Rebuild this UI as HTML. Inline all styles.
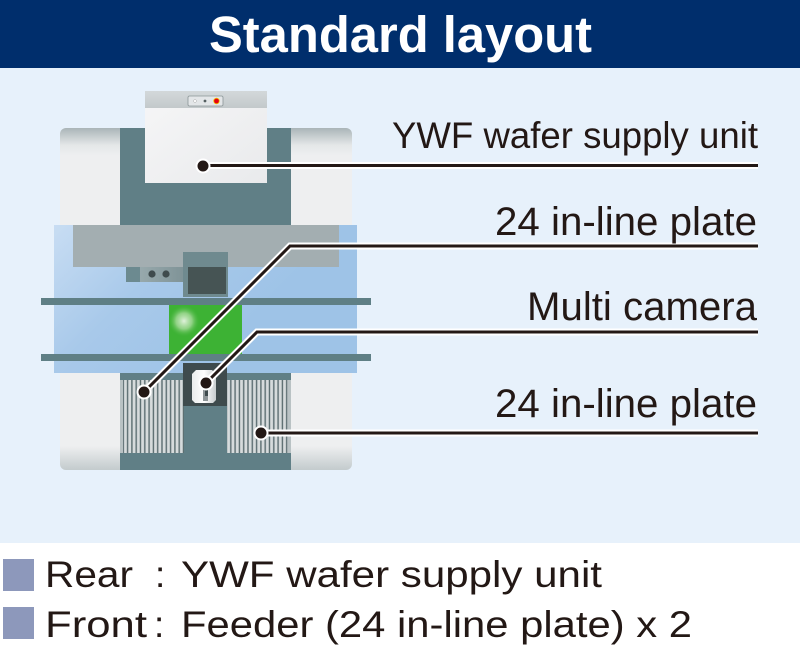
<!DOCTYPE html>
<html><head><meta charset="utf-8"><style>
html,body{margin:0;padding:0;background:#fff;}
svg{display:block;}
text{font-family:"Liberation Sans",Arial,sans-serif;}
</style></head><body>
<svg width="800" height="646" viewBox="0 0 800 646" xmlns="http://www.w3.org/2000/svg">
<defs>
<linearGradient id="baseG" x1="0" y1="128" x2="0" y2="470" gradientUnits="userSpaceOnUse">
<stop offset="0" stop-color="#aab5b8"/>
<stop offset="0.05" stop-color="#e4e7e8"/>
<stop offset="0.08" stop-color="#eeeff0"/>
<stop offset="0.93" stop-color="#eeeff0"/>
<stop offset="1" stop-color="#c3cbcd"/>
</linearGradient>
<linearGradient id="blueG" x1="54" y1="225" x2="200" y2="373" gradientUnits="userSpaceOnUse">
<stop offset="0" stop-color="#c8ddf3"/>
<stop offset="0.5" stop-color="#a8c9ea"/>
<stop offset="1" stop-color="#9ec3e7"/>
</linearGradient>
<linearGradient id="topbar" x1="0" y1="0" x2="0" y2="1">
<stop offset="0" stop-color="#d3d8da"/>
<stop offset="1" stop-color="#c3c9cb"/>
</linearGradient>
<linearGradient id="boxG" x1="0" y1="0" x2="1" y2="1">
<stop offset="0" stop-color="#f6f6f7"/>
<stop offset="1" stop-color="#e9eaec"/>
</linearGradient>
<linearGradient id="smallG" x1="0" y1="0" x2="1" y2="0">
<stop offset="0" stop-color="#9fb0b3"/>
<stop offset="1" stop-color="#7f9397"/>
</linearGradient>
<radialGradient id="glow" cx="0.5" cy="0.5" r="0.5">
<stop offset="0" stop-color="#e8f5e4" stop-opacity="0.95"/>
<stop offset="0.5" stop-color="#b5e0a8" stop-opacity="0.7"/>
<stop offset="1" stop-color="#3db234" stop-opacity="0"/>
</radialGradient>
<pattern id="stripes" x="120" y="0" width="4.3" height="10" patternUnits="userSpaceOnUse">
<rect x="0" y="0" width="4.3" height="10" fill="#d6dbdc"/>
<rect x="2.6" y="0" width="1.4" height="10" fill="#5a6c70"/>
</pattern>
<linearGradient id="camG" x1="0" y1="0" x2="1" y2="0">
<stop offset="0" stop-color="#e9ecec"/>
<stop offset="0.5" stop-color="#ffffff"/>
<stop offset="1" stop-color="#c6cccd"/>
</linearGradient>
</defs>

<!-- backgrounds -->
<rect x="0" y="0" width="800" height="646" fill="#ffffff"/>
<rect x="0" y="68" width="800" height="475" fill="#e7f1fb"/>
<rect x="0" y="0" width="800" height="68" fill="#002e6c"/>
<text x="209" y="52" font-size="51" font-weight="bold" fill="#ffffff" textLength="383" lengthAdjust="spacingAndGlyphs">Standard layout</text>

<!-- machine base -->
<rect x="60" y="128" width="292" height="342" rx="6" fill="url(#baseG)"/>
<rect x="120" y="128" width="171" height="342" fill="#607f86"/>

<!-- supply unit -->
<rect x="145" y="91" width="122" height="92" fill="url(#boxG)"/>
<rect x="145" y="91" width="122" height="17" fill="url(#topbar)"/>
<rect x="188" y="96" width="35" height="10" rx="1.5" fill="#e3e6e8" stroke="#8b9597" stroke-width="0.8"/>
<circle cx="195" cy="101" r="1.4" fill="#ffffff" stroke="#999" stroke-width="0.4"/>
<circle cx="205" cy="101" r="1.4" fill="#555f61"/>
<circle cx="216.5" cy="101" r="3.2" fill="#f2c400"/>
<circle cx="216.5" cy="101" r="2.4" fill="#e60012"/>

<!-- blue area -->
<rect x="54" y="225" width="303" height="148" fill="url(#blueG)"/>
<rect x="73" y="225" width="266" height="42" fill="#a3aeb1"/>
<!-- small block -->
<rect x="126" y="267" width="58" height="15" fill="url(#smallG)"/>
<rect x="126" y="267" width="14" height="15" fill="#6c8a90"/>
<circle cx="152" cy="274" r="3.6" fill="#3f4b4d"/>
<circle cx="166" cy="274" r="3.6" fill="#3f4b4d"/>
<!-- dark block -->
<rect x="183" y="252" width="45" height="45" fill="#6f8a8f"/>
<rect x="188" y="267" width="38" height="27" fill="#465454"/>

<!-- rails -->
<rect x="41" y="298" width="330" height="7" fill="#5f7f85"/>
<rect x="41" y="354" width="330" height="7" fill="#5f7f85"/>
<!-- green -->
<rect x="169" y="305" width="73" height="49" fill="#3db234"/>
<circle cx="184" cy="321" r="16" fill="url(#glow)"/>

<!-- bottom: feeders -->
<rect x="120" y="373" width="171" height="97" fill="#607f86"/>
<rect x="120" y="380" width="64" height="73" fill="url(#stripes)"/>
<rect x="120" y="380" width="3" height="73" fill="#b9c2c4"/>
<rect x="227" y="380" width="64" height="73" fill="url(#stripes)"/>
<rect x="288" y="380" width="3" height="73" fill="#b9c2c4"/>
<!-- camera block -->
<rect x="183" y="363" width="44" height="43" fill="#3e4b4d"/>
<path d="M196 370 L212 370 L216 374 L216 400 L213 403 L195 403 L192 400 L192 374 Z" fill="url(#camG)"/>
<rect x="203" y="385" width="5" height="16" fill="#8d9597"/>
<rect x="205" y="388" width="3" height="8" fill="#3e4b4d"/>

<!-- connectors (halo) -->
<g fill="none" stroke="#ffffff" stroke-width="7" stroke-linejoin="miter">
<polyline points="203,165.5 758,165.5"/>
<polyline points="144,392 290,246 758,246"/>
<polyline points="206,383 257,332 758,332"/>
<polyline points="261,433 758,433"/>
</g>
<g fill="none" stroke="#231815" stroke-width="3" stroke-linejoin="miter">
<polyline points="203,165.5 758,165.5"/>
<polyline points="144,392 290,246 758,246"/>
<polyline points="206,383 257,332 758,332"/>
<polyline points="261,433 758,433"/>
</g>
<g fill="#231815" stroke="#ffffff" stroke-width="2">
<circle cx="203" cy="166" r="6.5"/>
<circle cx="144" cy="392" r="6.5"/>
<circle cx="206" cy="383" r="6.5"/>
<circle cx="261" cy="433" r="6.5"/>
</g>

<!-- labels -->
<g fill="#231815">
<text x="392" y="148" font-size="37" textLength="366" lengthAdjust="spacingAndGlyphs">YWF wafer supply unit</text>
<text x="495" y="235" font-size="40" textLength="262" lengthAdjust="spacingAndGlyphs">24 in-line plate</text>
<text x="527" y="320" font-size="40" textLength="230" lengthAdjust="spacingAndGlyphs">Multi camera</text>
<text x="495" y="417" font-size="40" textLength="262" lengthAdjust="spacingAndGlyphs">24 in-line plate</text>
</g>

<!-- legend -->
<rect x="3" y="559" width="31" height="32" fill="#8d98bb"/>
<rect x="3" y="607" width="31" height="32" fill="#8d98bb"/>
<g fill="#231815" font-size="37">
<text x="45" y="587" textLength="88" lengthAdjust="spacingAndGlyphs">Rear</text>
<text x="155" y="587">:</text>
<text x="181" y="587" textLength="421" lengthAdjust="spacingAndGlyphs">YWF wafer supply unit</text>
<text x="45" y="637" textLength="102" lengthAdjust="spacingAndGlyphs">Front</text>
<text x="154" y="637">:</text>
<text x="181" y="637" textLength="511" lengthAdjust="spacingAndGlyphs">Feeder (24 in-line plate) x 2</text>
</g>
</svg>
</body></html>
